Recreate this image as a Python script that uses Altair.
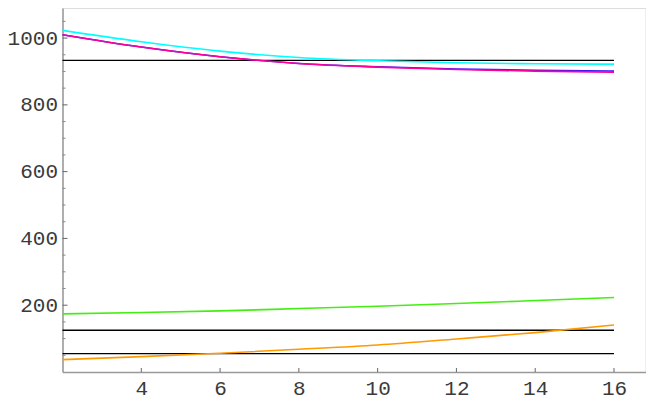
import altair as alt
import pandas as pd

# ---- data ----
x_vals = [2, 4, 6, 8, 10, 12, 14, 16]
cyan_vals = [1023, 989, 961, 942, 932, 926, 923, 922]
blue_vals = [1010, 973, 944, 924, 914, 907.5, 903.5, 901]
magenta_vals = [1010, 973, 944, 924, 913, 906, 901, 898]
green_vals = [174, 178, 183, 190, 197, 205, 214, 223]
orange_vals = [37, 46, 56, 68, 81, 99, 118, 141]
black_levels = [933, 125, 55]
black_x = [2, 16]

x_tick_labels = [4, 6, 8, 10, 12, 14, 16]
y_tick_labels = [200, 400, 600, 800, 1000]
y_minor_ticks = [50, 100, 150, 250, 300, 350, 450, 500, 550, 650, 700, 750,
                 850, 900, 950, 1050]

X_DOMAIN = [2, 16.8]
Y_DOMAIN = [0, 1090]
W, H = 583, 364
FONT = "Liberation Mono"

series = [
    ("cyan", cyan_vals, "#00FFFF"),
    ("blue", blue_vals, "#3311FF"),
    ("magenta", magenta_vals, "#FF0099"),
    ("green", green_vals, "#44EE11"),
    ("orange", orange_vals, "#FF9900"),
]

xs = alt.Scale(domain=X_DOMAIN, nice=False, zero=False)
ys = alt.Scale(domain=Y_DOMAIN, nice=False, zero=False)

x_axis = alt.Axis(values=x_tick_labels, ticks=False, grid=False, format="d",
                  domainColor="#999999", domainWidth=1.5,
                  labelFont=FONT, labelFontSize=21, labelColor="#3a3a3a",
                  labelPadding=5, title=None)
y_axis = alt.Axis(values=y_tick_labels, ticks=False, grid=False, format="d",
                  domainColor="#999999", domainWidth=1.5,
                  labelFont=FONT, labelFontSize=21, labelColor="#3a3a3a",
                  labelPadding=5, title=None)

# black horizontal reference lines
black_df = pd.DataFrame({"y": black_levels, "x1": black_x[0], "x2": black_x[1]})
black = alt.Chart(black_df).mark_rule(color="black", strokeWidth=1.3).encode(
    x=alt.X("x1:Q", scale=xs, axis=x_axis),
    x2="x2:Q",
    y=alt.Y("y:Q", scale=ys, axis=y_axis),
)

layers = [black]
for name, vals, col in series:
    df = pd.DataFrame({"x": x_vals, "y": vals})
    layers.append(
        alt.Chart(df).mark_line(color=col, strokeWidth=1.6, interpolate="monotone").encode(
            x=alt.X("x:Q", scale=xs),
            y=alt.Y("y:Q", scale=ys),
        )
    )

# inward tick marks
ymaj = alt.Chart(pd.DataFrame({"y": y_tick_labels})).mark_rule(color="#666666", strokeWidth=1).encode(
    y=alt.Y("y:Q", scale=ys), x=alt.value(0), x2=alt.value(5))
ymin = alt.Chart(pd.DataFrame({"y": y_minor_ticks})).mark_rule(color="#888888", strokeWidth=1).encode(
    y=alt.Y("y:Q", scale=ys), x=alt.value(0), x2=alt.value(3))
xmaj = alt.Chart(pd.DataFrame({"x": x_tick_labels})).mark_rule(color="#666666", strokeWidth=1).encode(
    x=alt.X("x:Q", scale=xs), y=alt.value(H), y2=alt.value(H - 4))
layers += [ymaj, ymin, xmaj]

chart = alt.layer(*layers).properties(
    width=W, height=H,
    autosize=alt.AutoSizeParams(type="none"),
    padding={"left": 54.5, "top": 0, "right": 0, "bottom": 30},
).configure_view(stroke=None).configure(background="white")

chart.save("out.html", embed_options={"renderer": "svg", "actions": False})
